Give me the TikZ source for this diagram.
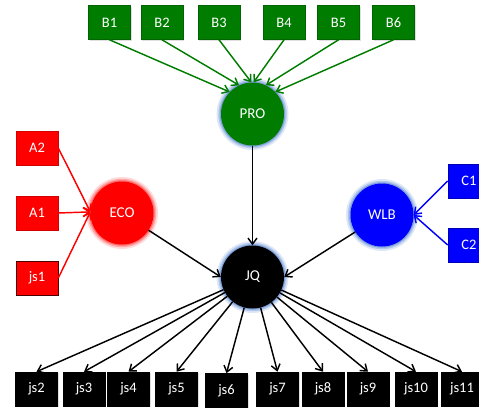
\documentclass[tikz,border=0pt]{standalone}
\usepackage{fontspec}
\setmainfont{Carlito}
\usetikzlibrary{arrows.meta,shadows}

\definecolor{progreen}{RGB}{0,125,0}
\definecolor{proedge}{RGB}{0,100,0}
\definecolor{ecored}{RGB}{255,0,0}
\definecolor{ecoedge}{RGB}{210,0,0}
\definecolor{wlbblue}{RGB}{0,0,255}
\definecolor{wlbedge}{RGB}{0,0,180}
\definecolor{haloblue}{RGB}{110,150,215}
\definecolor{halored}{RGB}{255,90,90}

\tikzset{
  box/.style={rectangle, minimum width=42pt, minimum height=34pt, inner sep=0pt,
    text=white, font=\fontsize{14.5}{16}\selectfont, line width=0.6pt,
    drop shadow={opacity=0.25, shadow xshift=1.2pt, shadow yshift=-1.2pt}},
  hub/.style={circle, minimum size=63pt, inner sep=0pt, text=white,
    font=\fontsize{15}{17}\selectfont},
  halo/.style={preaction={draw=#1, line width=9pt, opacity=0.22},
    preaction={draw=#1, line width=5.5pt, opacity=0.4},
    preaction={draw=#1, line width=2.5pt, opacity=0.75}},
  link/.style={line width=1.45pt, -{Straight Barb[length=6pt,width=9pt]}},
  gbox/.style={box, fill=progreen, draw=proedge},
  rbox/.style={box, fill=ecored, draw=ecoedge},
  bbox/.style={box, fill=wlbblue, draw=wlbedge},
  kbox/.style={box, fill=black, draw=black},
}

\begin{document}
\begin{tikzpicture}[x=1pt, y=-1pt]
\useasboundingbox (0,0) rectangle (479,407);

% hubs
\node[hub, fill=progreen, halo=haloblue] (pro) at (252.5,114) {PRO};
\node[hub, fill=ecored, halo=halored] (eco) at (122,213) {ECO};
\node[hub, fill=wlbblue, halo=haloblue] (wlb) at (382,215) {WLB};
\node[hub, fill=black, halo=haloblue] (jq) at (252.5,277) {JQ};

% top row
\node[gbox] (b1) at (109.5,22.5) {B1};
\node[gbox] (b2) at (162,22.5) {B2};
\node[gbox] (b3) at (219,22.5) {B3};
\node[gbox] (b4) at (284,22.5) {B4};
\node[gbox] (b5) at (338.5,22.5) {B5};
\node[gbox] (b6) at (393.5,22.5) {B6};

% left column
\node[rbox] (a2) at (37,148) {A2};
\node[rbox] (a1) at (37,213) {A1};
\node[rbox, draw=black!70!red] (js1) at (37,278) {js1};

% right column
\node[bbox] (c1) at (469,181) {C1};
\node[bbox] (c2) at (469,245) {C2};

% bottom row
\node[kbox] (js2) at (36.5,389) {js2};
\node[kbox] (js3) at (84,389) {js3};
\node[kbox] (js4) at (128.5,389) {js4};
\node[kbox] (js5) at (176.5,389) {js5};
\node[kbox] (js6) at (226.5,390.5) {js6};
\node[kbox] (js7) at (277.5,389) {js7};
\node[kbox] (js8) at (323,389) {js8};
\node[kbox] (js9) at (368,389) {js9};
\node[kbox] (js10) at (416,389) {js10};
\node[kbox] (js11) at (462,389) {js11};

% inputs to PRO
\draw[link, progreen] (b1.south) -- (pro.136);
\draw[link, progreen] (b2.south) -- (pro.115);
\draw[link, progreen] (b3.south) -- (pro.92);
\draw[link, progreen] (b4.south) -- (pro.88);
\draw[link, progreen] (b5.south) -- (pro.65);
\draw[link, progreen] (b6.south) -- (pro.44);

% inputs to ECO
\draw[link, ecored] (a2.east) -- (eco.178);
\draw[link, ecored] (a1.east) -- (eco.178);
\draw[link, ecored] (js1.east) -- (eco.178);

% inputs to WLB
\draw[link, wlbblue] (c1.west) -- (wlb.east);
\draw[link, wlbblue] (c2.west) -- (wlb.east);

% hubs into JQ
\draw[link] (pro) -- (jq);
\draw[link] (eco) -- (jq.west);
\draw[link] (wlb) -- (jq.east);

% JQ outputs
\foreach \n in {js2,js3,js4,js5,js6,js7,js8,js9,js10,js11}
  \draw[link] (jq) -- (\n.north);
\end{tikzpicture}
\end{document}
